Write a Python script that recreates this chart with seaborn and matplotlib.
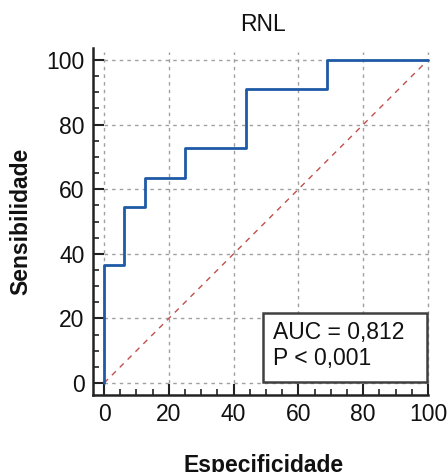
import matplotlib
matplotlib.use("Agg")
import matplotlib.pyplot as plt
from matplotlib.patches import Rectangle
from matplotlib.ticker import MultipleLocator
import seaborn as sns
import pandas as pd

# ---- data ----
especificidade = [0, 0, 6.25, 6.25, 12.5, 12.5, 25, 25, 43.75, 43.75, 68.75, 68.75, 100]
sensibilidade = [0, 36.4, 36.4, 54.5, 54.5, 63.6, 63.6, 72.7, 72.7, 90.9, 90.9, 100, 100]
ref_x = [0, 100]
ref_y = [0, 100]
ticks = [0, 20, 40, 60, 80, 100]
title = "RNL"
xlabel = "Especificidade"
ylabel = "Sensibilidade"
auc_text = "AUC = 0,812"
p_text = "P < 0,001"

sns.set_theme(style="white")
plt.rcParams["font.family"] = ["Liberation Sans", "DejaVu Sans"]

df = pd.DataFrame({"x": especificidade, "y": sensibilidade})
ref = pd.DataFrame({"x": ref_x, "y": ref_y})

fig = plt.figure(figsize=(4.48, 4.72), dpi=100)
ax = fig.add_axes([0.2076, 0.1631, 0.7594, 0.7352])

xlim = (-3.4, 101.6)
ylim = (-3.7, 103.7)

# grid (restricted to the data area)
ax.vlines(ticks, 0, 102.5, colors="#a0a0a0", linestyles=(0, (2.5, 3)), linewidth=1, zorder=0)
ax.hlines(ticks, 0, 101.6, colors="#a0a0a0", linestyles=(0, (2.5, 3)), linewidth=1, zorder=0)

sns.lineplot(data=ref, x="x", y="y", ax=ax, color="#c0504d", linewidth=1,
             linestyle=(0, (4, 4)), sort=False, zorder=2)
sns.lineplot(data=df, x="x", y="y", ax=ax, color="#1f5aa6", linewidth=2,
             sort=False, estimator=None, zorder=3)

ax.set_xlim(*xlim)
ax.set_ylim(*ylim)
ax.set_xticks(ticks)
ax.set_yticks(ticks)
ax.xaxis.set_minor_locator(MultipleLocator(5))
ax.yaxis.set_minor_locator(MultipleLocator(5))

for s in ["top", "right"]:
    ax.spines[s].set_visible(False)
for s in ["left", "bottom"]:
    ax.spines[s].set_linewidth(1.8)
    ax.spines[s].set_color("#222222")
ax.spines["bottom"].set_bounds(xlim[0], 100)

ax.tick_params(which="major", direction="in", length=8, width=1.5, color="#222222",
               labelsize=16.5, pad=6, labelcolor="#111111")
ax.tick_params(which="minor", direction="in", length=4.5, width=1.2, color="#222222")
ax.tick_params(axis="x", which="both", bottom=True)
ax.tick_params(axis="y", which="both", left=True)

ax.set_title(title, fontsize=16.5, pad=12, color="#111111")
ax.set_xlabel(xlabel, fontsize=16.5, fontweight="bold", labelpad=20, color="#111111")
ax.set_ylabel(ylabel, fontsize=16.5, fontweight="bold", labelpad=10, color="#111111")

# AUC box
ax.add_patch(Rectangle((49.1, 0.3), 50.6, 21.4, facecolor="white", edgecolor="#404040",
                       linewidth=1.8, zorder=4))
ax.text(52.2, 15.5, auc_text, fontsize=16.5, va="center", ha="left", color="#111111", zorder=5)
ax.text(52.2, 7.7, p_text, fontsize=16.5, va="center", ha="left", color="#111111", zorder=5)

ax.set_facecolor("white")
fig.patch.set_facecolor("white")
fig.savefig("out.png", dpi=100)
